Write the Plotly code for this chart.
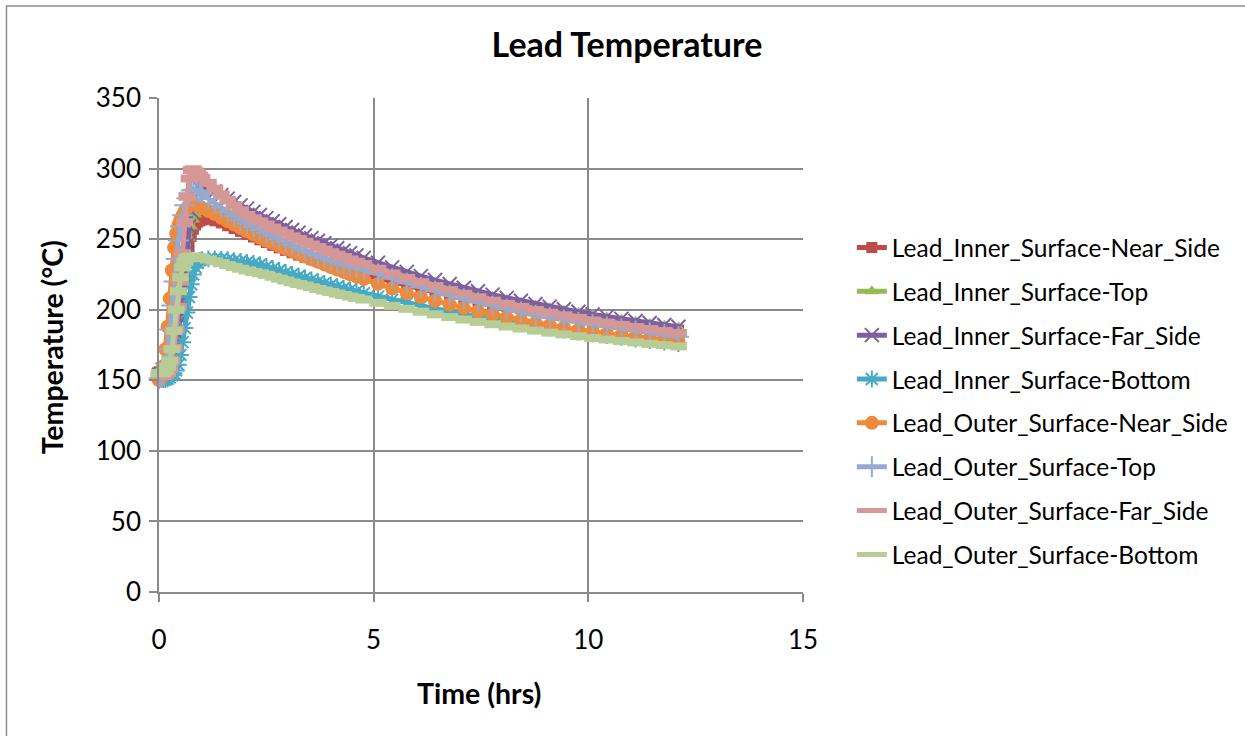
import plotly.graph_objects as go

# ---------------- data ----------------
time_hrs = [0, 0.05, 0.1, 0.15, 0.2, 0.25, 0.3, 0.35, 0.4, 0.45, 0.5, 0.55, 0.6, 0.65, 0.7, 0.75, 0.8, 0.85, 0.9, 0.95, 1.0,
            1.15, 1.3, 1.45, 1.6, 1.75, 1.9, 2.05, 2.2, 2.35, 2.5, 2.65, 2.8, 2.95, 3.1, 3.25, 3.4, 3.55, 3.7, 3.85, 4.0,
            4.15, 4.3, 4.45, 4.6,
            4.77, 5.1, 5.43, 5.77, 6.1, 6.43, 6.77, 7.1, 7.43, 7.77, 8.1, 8.43, 8.77, 9.1, 9.43, 9.77, 10.1, 10.43,
            10.77, 11.1, 11.43, 11.77, 12.1]

inner_near_side = [156, 156, 156, 156.5, 157, 158, 161, 166, 173, 183, 195, 208, 222, 235, 245, 252, 257, 260, 262, 263, 263.5,
                   264.0, 263.0, 261.5, 259.5, 257.5, 255.5, 253.5, 251.5, 249.5, 247.6, 245.6, 243.8, 242.0, 240.3, 238.7,
                   237.2, 235.8, 234.3, 232.9, 231.6, 230.2, 228.9, 227.6, 226.3,
                   224.9, 222.2, 219.6, 217.1, 214.8, 212.5, 210.3, 208.2, 206.2, 204.3, 202.4, 200.7, 199.0, 197.4, 195.8,
                   194.3, 192.9, 191.5, 190.2, 189.0, 187.8, 186.6, 185.5]

inner_top = [155, 155, 155, 155.5, 156, 158, 161, 166, 174, 185, 198, 213, 228, 241, 251, 259, 264, 267.5, 269.5, 270.5, 271,
             271.5, 271.3, 270.5, 269.4, 268.2, 266.9, 265.6, 263.5, 261.4, 259.4, 257.3, 255.4, 253.5, 251.6, 249.8,
             247.9, 246.2, 244.6, 242.9, 241.3, 239.6, 238.1, 236.5, 235.0,
             233.3, 230.1, 227.0, 224.0, 221.2, 218.6, 216.0, 213.6, 211.3, 209.0, 206.9, 204.9, 202.9, 201.1, 199.3,
             197.6, 195.9, 194.4, 192.9, 191.4, 190.1, 188.7, 187.4]

inner_far_side = [154, 154, 154, 154.5, 155, 157, 160, 165, 173, 184, 198, 214, 231, 246, 259, 270, 278, 284, 287.5, 289, 289,
                  286.4, 283.8, 281.2, 278.7, 276.3, 273.9, 271.6, 269.3, 267.1, 264.9, 262.7, 260.6, 258.6, 256.5, 254.6,
                  252.6, 250.7, 248.9, 247.1, 245.3, 243.5, 241.8, 240.1, 238.5,
                  236.7, 233.3, 230.0, 226.8, 223.8, 221.0, 218.2, 215.6, 213.1, 210.7, 208.4, 206.3, 204.1, 202.2, 200.3,
                  198.5, 196.7, 195.1, 193.5, 192.0, 190.6, 189.2, 187.9]

inner_bottom = [152, 151, 150.5, 150.5, 151, 152, 153.5, 155, 157, 161, 168, 177, 187, 198, 209, 218, 225, 230, 233, 235, 235.5,
                236.0, 236.0, 235.8, 235.4, 234.8, 234.2, 233.5, 232.8, 231.9, 230.6, 229.1, 227.8, 226.4, 225.0, 223.7,
                222.5, 221.2, 219.9, 218.7, 217.5, 216.3, 215.2, 214.0, 212.9,
                211.7, 209.3, 207.0, 204.8, 202.7, 200.7, 198.7, 196.8, 195.1, 193.3, 191.6, 190.1, 188.5, 187.0, 185.6,
                184.2, 182.9, 181.7, 180.4, 179.2, 178.1, 177.0, 176.0]

outer_near_side = [150, 152, 160, 172, 188, 208, 228, 244, 254, 260, 264, 267, 270, 272, 274, 275, 275, 274.5, 274, 273, 272,
                   269.9, 267.8, 265.2, 262.7, 260.3, 257.9, 255.6, 253.3, 251.1, 248.9, 247.2, 245.1, 243.1, 241.5, 239.6,
                   237.6, 235.7, 233.9, 232.1, 230.3, 228.5, 226.8, 225.1, 223.5,
                   221.7, 218.3, 215.0, 211.8, 209.0, 206.4, 203.7, 201.3, 198.9, 196.7, 194.6, 192.7, 190.7, 189.0, 187.3,
                   185.7, 184.2, 182.9, 181.7, 180.6, 179.6, 178.7, 177.9]

outer_top = [151, 152, 155, 162, 172, 186, 203, 220, 236, 249, 259, 267, 274, 279, 282.5, 284.5, 285, 284.5, 284, 283, 282,
             278.4, 275.3, 272.2, 269.2, 266.3, 263.4, 261.1, 258.8, 256.6, 254.4, 252.2, 250.1, 248.1, 246.0, 244.1,
             242.1, 240.2, 238.4, 236.6, 235.0, 233.6, 232.3, 231.0, 229.8,
             228.7, 225.3, 222.0, 218.8, 215.8, 213.0, 210.2, 207.6, 205.1, 202.7, 200.4, 198.3, 196.1, 194.5, 192.7,
             191.0, 189.3, 187.8, 186.3, 184.9, 183.6, 182.2, 180.9]

outer_far_side = [153, 153, 153, 154, 155, 158, 164, 173, 186, 202, 220, 240, 262, 280, 293, 299, 299.5, 298, 296.5, 295, 293.5,
                  289.9, 285.8, 281.7, 277.7, 273.8, 270.4, 267.1, 264.8, 262.6, 260.4, 258.2, 256.1, 254.1, 252.0, 250.1,
                  248.1, 246.2, 244.4, 242.6, 240.8, 239.0, 237.3, 235.6, 234.0,
                  232.4, 229.0, 225.7, 222.5, 219.5, 216.7, 213.9, 211.3, 208.8, 206.4, 204.1, 202.0, 199.8, 197.9, 196.0,
                  194.2, 192.4, 190.8, 189.2, 187.7, 186.3, 184.9, 183.6]

outer_bottom = [155, 155, 155.5, 157, 159.5, 164, 172, 185, 200, 213, 223, 230, 234, 236.5, 237.5, 237.5, 237.5, 237.5, 237, 237, 236.5,
                235.5, 234.3, 233.0, 231.6, 230.3, 229.0, 227.8, 226.7, 225.8, 224.7, 223.3, 222.0, 220.7, 219.4, 218.2,
                217.1, 215.9, 214.7, 213.6, 212.5, 211.4, 210.4, 209.3, 208.3,
                207.2, 204.9, 202.7, 200.6, 198.6, 196.7, 194.8, 193.0, 191.4, 189.7, 188.1, 186.7, 185.2, 183.8, 182.5,
                181.2, 179.9, 178.9, 177.8, 176.8, 175.8, 174.9, 174.0]

series_names = ["Lead_Inner_Surface-Near_Side", "Lead_Inner_Surface-Top", "Lead_Inner_Surface-Far_Side",
                "Lead_Inner_Surface-Bottom", "Lead_Outer_Surface-Near_Side", "Lead_Outer_Surface-Top",
                "Lead_Outer_Surface-Far_Side", "Lead_Outer_Surface-Bottom"]
series_values = [inner_near_side, inner_top, inner_far_side, inner_bottom,
                 outer_near_side, outer_top, outer_far_side, outer_bottom]

x_ticks = [0, 5, 10, 15]
y_ticks = [0, 50, 100, 150, 200, 250, 300, 350]

# ---------------- styles ----------------
styles = [
    dict(color="#BE4B48", symbol="square", size=11, mlw=0),
    dict(color="#98B954", symbol="triangle-up", size=12, mlw=0),
    dict(color="#7D60A0", symbol="x-thin-open", size=14, mlw=2),
    dict(color="#46AAC5", symbol="asterisk-open", size=14, mlw=2),
    dict(color="#EE8A3C", symbol="circle", size=14, mlw=0),
    dict(color="#94AAD2", symbol="cross-thin-open", size=15, mlw=2),
    dict(color="#D59896", symbol="line-ew-open", size=12, mlw=8),
    dict(color="#B8CD95", symbol="line-ew-open", size=12, mlw=8),
]

for vals in series_values:
    assert len(vals) == len(time_hrs), len(vals)

FONT = "Lato, 'Open Sans', sans-serif"
GRID = "#8A8A8A"

fig = go.Figure()
for i, (name, vals, st) in enumerate(zip(series_names, series_values, styles)):
    fig.add_trace(go.Scatter(
        x=time_hrs, y=vals, name=name, mode="lines+markers",
        legendgroup=f"g{i}", cliponaxis=False,
        line=dict(color=st["color"], width=5),
        marker=dict(symbol=st["symbol"], size=st["size"], color=st["color"],
                    line=dict(color=st["color"], width=st["mlw"])),
    ))

W, H = 1245, 736
L, R, T, B = 159, 440, 98, 144
pw, ph = W - L - R, H - T - B

def px_x(p):
    return (p - L) / pw

def px_y(p):
    return (H - B - p) / ph

fig.update_layout(
    width=W, height=H,
    margin=dict(l=L, r=R, t=T, b=B, pad=0),
    paper_bgcolor="white", plot_bgcolor="white",
    font=dict(family=FONT, color="black"),
    title=dict(text="<b>Lead Temperature</b>", x=627 / W, xref="container", xanchor="center",
               y=1 - 45 / H, yref="container", yanchor="middle",
               font=dict(size=34, family=FONT, color="black")),
    showlegend=True,
    legend=dict(x=px_x(854), xanchor="left", y=px_y(225), yanchor="top",
                font=dict(size=24.5, family=FONT, color="black"),
                tracegroupgap=9, traceorder="grouped",
                bgcolor="rgba(0,0,0,0)", borderwidth=0),
    xaxis=dict(range=[0, 15], tickvals=x_ticks, showgrid=True, gridcolor=GRID, gridwidth=1.6,
               showline=True, linecolor=GRID, linewidth=1.6, zeroline=False,
               ticks="outside", ticklen=8, tickcolor=GRID, tickwidth=1.6,
               tickfont=dict(size=26, family=FONT, color="black"), ticklabelstandoff=16),
    yaxis=dict(range=[0, 350], tickvals=y_ticks, showgrid=True, gridcolor=GRID, gridwidth=1.6,
               showline=True, linecolor=GRID, linewidth=1.6, zeroline=False,
               ticks="outside", ticklen=8, tickcolor=GRID, tickwidth=1.6,
               tickfont=dict(size=26, family=FONT, color="black"), ticklabelstandoff=3),
    annotations=[
        dict(text="<b>Time (hrs)</b>", xref="paper", yref="paper", x=px_x(480), y=px_y(693),
             xanchor="center", yanchor="middle", showarrow=False,
             font=dict(size=28.5, family=FONT, color="black")),
        dict(text="<b>Temperature (°C)</b>", xref="paper", yref="paper", x=px_x(52), y=px_y(347),
             xanchor="center", yanchor="middle", showarrow=False, textangle=-90,
             font=dict(size=28.5, family=FONT, color="black")),
    ],
    shapes=[dict(type="rect", xref="paper", yref="paper",
                 x0=px_x(6), x1=px_x(1260), y0=px_y(750), y1=px_y(6),
                 line=dict(color="#8C8C8C", width=1.5), fillcolor="rgba(0,0,0,0)", layer="below")],
)

fig.write_html("out.html", config={"displayModeBar": False},
               post_script="document.body.style.margin='0px';")
